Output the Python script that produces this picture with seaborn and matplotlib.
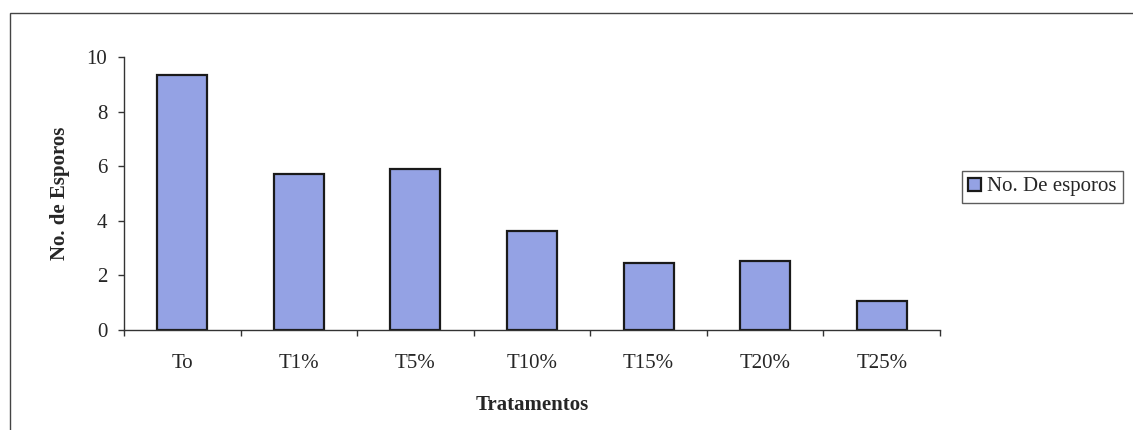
import matplotlib
matplotlib.use("Agg")
import matplotlib.pyplot as plt
import seaborn as sns
import pandas as pd
from matplotlib.patches import Rectangle
from matplotlib.ticker import FixedLocator

tratamentos = ["To", "T1%", "T5%", "T10%", "T15%", "T20%", "T25%"]
esporos = [9.33, 5.71, 5.88, 3.62, 2.45, 2.53, 1.06]
yticks = [0, 2, 4, 6, 8, 10]

sns.set_style("white")
plt.rcParams['font.family'] = ['Liberation Serif', 'DejaVu Serif']

df = pd.DataFrame({"Tratamentos": tratamentos, "No. De esporos": esporos})

fig = plt.figure(figsize=(11.33, 4.30), dpi=100)
fig.patch.set_facecolor("white")
ax = fig.add_axes([124/1133, 1-330/430, (940-124)/1133, (330-57)/430])

sns.barplot(data=df, x="Tratamentos", y="No. De esporos", ax=ax,
            color="#94A2E4", edgecolor="#1a1a1a", linewidth=1.6, width=0.43,
            saturation=1, label="No. De esporos")

ax.set_ylim(0, 10)
ax.set_xlim(-0.5, len(tratamentos) - 0.5)
ax.set_yticks(yticks)
ax.set_yticklabels([str(v) for v in yticks], fontsize=15)
ax.tick_params(axis='y', which='major', direction='out', length=4, width=1, color='#333', pad=8, left=True)
ax.tick_params(axis='x', which='major', length=0, labelsize=15, pad=17)
ax.xaxis.set_minor_locator(FixedLocator([i + 0.5 for i in range(-1, len(tratamentos))]))
ax.tick_params(axis='x', which='minor', direction='out', length=4, width=1, color='#333', bottom=True)
ax.set_xticklabels(tratamentos, fontsize=15)

for s in ["top", "right"]:
    ax.spines[s].set_visible(False)
for s in ["left", "bottom"]:
    ax.spines[s].set_color("#333")
    ax.spines[s].set_linewidth(1.0)

ax.set_xlabel("Tratamentos", fontsize=15, fontweight="bold", labelpad=16)
ax.set_ylabel("No. de Esporos", fontsize=15, fontweight="bold", labelpad=12)

leg = ax.legend(loc="center left", bbox_to_anchor=(962/1133, 1-187/430),
                bbox_transform=fig.transFigure, frameon=True, fontsize=15,
                handlelength=0.6, handleheight=0.6, handletextpad=0.3,
                borderpad=0.3, borderaxespad=0, fancybox=False)
leg.get_frame().set_edgecolor("#333")
leg.get_frame().set_linewidth(1.0)

fig.patches.append(Rectangle((10/1133, -0.1), 1.2, 1-13/430+0.1, transform=fig.transFigure,
                             fill=False, edgecolor="#444", linewidth=1.0))

fig.savefig("out.png", dpi=100)
